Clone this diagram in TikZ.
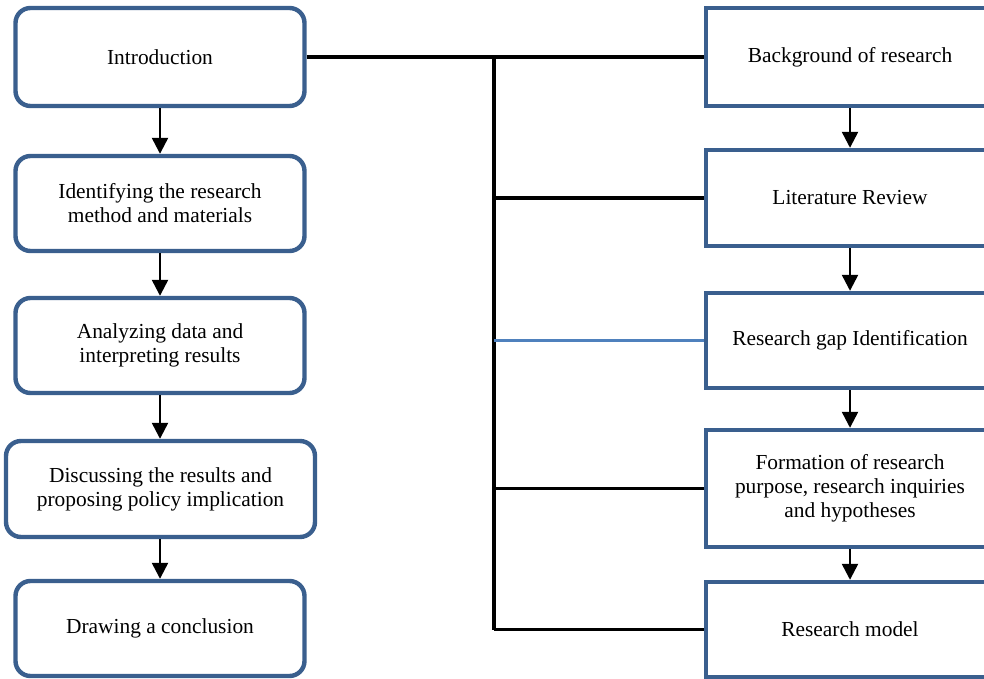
\documentclass[tikz,border=0pt]{standalone}
\usepackage{fontspec}
\setmainfont{Liberation Serif}
\usetikzlibrary{arrows.meta}
\definecolor{boxblue}{HTML}{3A5F8E}
\definecolor{lineblue}{HTML}{4F81BD}
\begin{document}
\begin{tikzpicture}[x=0.5pt,y=-0.5pt,
  every node/.style={font=\fontsize{10.7pt}{12pt}\selectfont, align=center, inner sep=0pt},
  lbox/.style={draw=boxblue, line width=2.2pt, rounded corners=7.5pt, fill=white, minimum width=144.5pt, minimum height=47.5pt},
  rbox/.style={draw=boxblue, line width=2.2pt, fill=white, minimum width=144pt, minimum height=47.5pt},
  arr/.style={draw=black, line width=1.2pt, -{Triangle[width=8pt,length=8pt]}},
  link/.style={draw=black, line width=1.7pt},
  bluelink/.style={draw=lineblue, line width=1.3pt}]
\useasboundingbox (0,0) rectangle (984,679);
\clip (0,0) rectangle (984,679);
% left column
\node[lbox, minimum height=49pt] (intro) at (160,57) {\raisebox{-1pt}{Introduction}};
\node[lbox] (ident) at (160,203.5) {Identifying the research\\method and materials};
\node[lbox] (anal) at (160,345.5) {Analyzing data and\\interpreting results};
\node[lbox, minimum width=154.5pt, minimum height=48pt] (disc) at (160.5,489) {Discussing the results and\\proposing policy implication};
\node[lbox] (concl) at (160,628.5) {\raisebox{-1pt}{Drawing a conclusion}};
% right column
\node[rbox, minimum height=49pt] (bg) at (850,57) {\raisebox{-1pt}{Background of research}};
\node[rbox, minimum height=48pt] (lit) at (850,198) {\raisebox{-1pt}{Literature Review}};
\node[rbox] (gap) at (850,340.5) {\raisebox{-1pt}{Research gap Identification}};
\node[rbox, minimum height=58.5pt] (form) at (850,488.5) {Formation of research\\purpose, research inquiries\\and hypotheses};
\node[rbox] (model) at (850,629.5) {\raisebox{-1pt}{Research model}};
% left arrows
\draw[arr] (intro.south) -- (ident.north);
\draw[arr] (ident.south) -- (anal.north);
\draw[arr] (anal.south) -- (disc.north -| anal.south);
\draw[arr] (disc.south -| concl.north) -- (concl.north);
% right arrows
\draw[arr] (bg.south) -- (lit.north);
\draw[arr] (lit.south) -- (gap.north);
\draw[arr] (gap.south) -- (form.north);
\draw[arr] (form.south) -- (model.north);
% bus
\coordinate (bt) at (494,57);
\coordinate (bb) at (494,629.5);
\draw[link] (intro.east) -- (bg.west);
\draw[link] (bt) -- (bb);
\draw[link] (lit.west -| bt) -- (lit.west);
\draw[bluelink] (gap.west -| bt) -- (gap.west);
\draw[link] (form.west -| bt) -- (form.west);
\draw[link] (bb) -- (model.west);
\end{tikzpicture}
\end{document}
